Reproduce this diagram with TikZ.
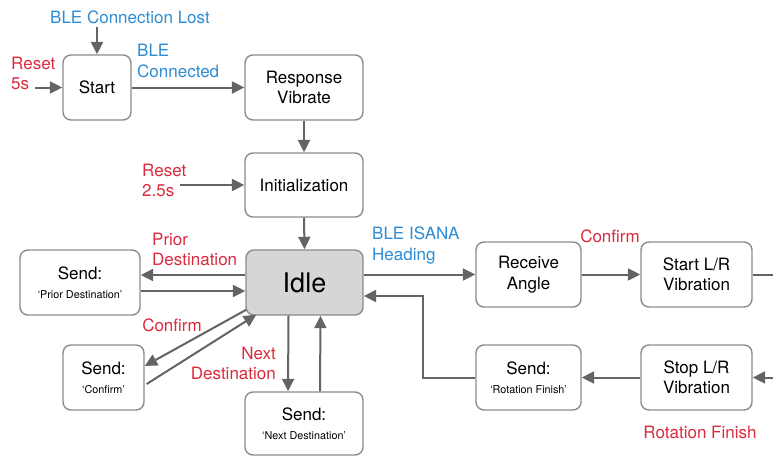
\documentclass[tikz,border=0pt]{standalone}
\usepackage{fontspec}
\setmainfont{TeX Gyre Heros}
\usetikzlibrary{arrows.meta,calc}
\definecolor{linegray}{RGB}{100,100,100}
\definecolor{boxgray}{RGB}{140,140,140}
\definecolor{idlefill}{RGB}{214,214,214}
\definecolor{bleblue}{RGB}{45,140,212}
\definecolor{evred}{RGB}{218,42,62}
\tikzset{
  statebox/.style={draw=boxgray, line width=1.4pt, rounded corners=8pt, fill=white,
    align=center, inner sep=0pt, font=\fontsize{17}{20.5}\selectfont},
  flow/.style={draw=linegray, line width=2pt, -{Triangle[length=12.5pt,width=12pt]}},
  plain/.style={draw=linegray, line width=2pt},
  blulabel/.style={text=bleblue, font=\fontsize{17}{21}\selectfont, inner sep=0pt},
  redlabel/.style={text=evred, font=\fontsize{17}{20}\selectfont, inner sep=0pt}
}
\newcommand{\sendtxt}[1]{Send:\\[-1pt]{\fontsize{10.8}{12}\selectfont ‘#1’}}
\begin{document}
\begin{tikzpicture}[x=1pt,y=-1pt]
\useasboundingbox (0,0) rectangle (773,460);

% states
\node[statebox, minimum width=68, minimum height=65] (start) at (97,87.5) {Start};
\node[statebox, minimum width=118, minimum height=65] (resp) at (304,87.5) {Response\\Vibrate};
\node[statebox, minimum width=118, minimum height=64] (init) at (304,185) {Initialization};
\node[statebox, minimum width=117, minimum height=65, fill=idlefill, font=\fontsize{27}{30}\selectfont] (idle) at (304.5,282.5) {Idle};
\node[statebox, minimum width=120, minimum height=65] (prior) at (80,282.5) {\sendtxt{Prior Destination}};
\node[statebox, minimum width=81, minimum height=65] (conf) at (103.5,377.5) {\sendtxt{Confirm}};
\node[statebox, minimum width=118, minimum height=63] (next) at (304,423.5) {\sendtxt{Next Destination}};
\node[statebox, minimum width=105, minimum height=65] (recv) at (528.5,274.5) {Receive\\Angle};
\node[statebox, minimum width=111, minimum height=65] (startlr) at (696.5,274.5) {Start L/R\\Vibration};
\node[statebox, minimum width=105, minimum height=65] (rotsend) at (528.5,377.5) {\sendtxt{Rotation Finish}};
\node[statebox, minimum width=111, minimum height=65] (stoplr) at (696.5,377.5) {Stop L/R\\Vibration};

% free ends
\coordinate (lostsrc) at (97,27);
\coordinate (reset5) at (35,87.5);
\coordinate (reset25) at (180,185);
\coordinate (outR) at (773,274.5);
\coordinate (inR) at (773,377.5);
\coordinate (bend1) at (423,377.5);
\coordinate (bend2) at (423,296);

% event labels
\node[blulabel] (lostlbl) at (130,17) {BLE Connection Lost};
\node[redlabel, anchor=west, align=left] (r5lbl) at (11,73.5) {Reset\\5s};
\node[blulabel, anchor=west, align=left] (conlbl) at (137,61) {BLE\\Connected};
\node[redlabel, anchor=west, align=left] (r25lbl) at (142,180) {Reset\\2.5s};
\node[redlabel, anchor=west, align=left] (prlbl) at (152,249) {Prior\\Destination};
\node[redlabel] (cflbl) at (172,325) {Confirm};
\node[redlabel, anchor=east, align=right] (ndlbl) at (276,363) {Next\\Destination};
\node[blulabel, anchor=west, align=left] (isalbl) at (372,246) {BLE ISANA\\Heading};
\node[redlabel] (cf2lbl) at (610,236) {Confirm};
\node[redlabel] (rflbl) at (700,432) {Rotation Finish};

% transitions
\draw[flow] (lostsrc) -- (start.north);
\draw[flow] (reset5) -- (start.west);
\draw[flow] (start.east) -- (resp.west);
\draw[flow] (resp.south) -- (init.north);
\draw[flow] (reset25) -- (init.west);
\draw[flow] (init.south) -- (idle.north);

\draw[flow] ([yshift=7.5pt]idle.west) -- ([yshift=7.5pt]prior.east);
\draw[flow] ([yshift=-8.5pt]prior.east) -- ([yshift=-8.5pt]idle.west);

\draw[flow] ($(idle.south west)+(1,-6)$) -- ($(conf.east)+(0,-11.5)$);
\draw[flow] ($(conf.east)+(2,6.5)$) -- ($(idle.south west)+(11,-1)$);

\draw[flow] ([xshift=-16pt]idle.south) -- ([xshift=-16pt]next.north);
\draw[flow] ([xshift=16pt]next.north) -- ([xshift=16pt]idle.south);

\draw[flow] (idle.east |- recv.west) -- (recv.west);
\draw[flow] (recv.east) -- (startlr.west);
\draw[plain] (startlr.east) -- (outR);
\draw[flow] (inR) -- (stoplr.east);
\draw[flow] (stoplr.west) -- (rotsend.east);
\draw[flow] (rotsend.west) -- (bend1) -- (bend2) -- (idle.east |- bend2);
\end{tikzpicture}
\end{document}
